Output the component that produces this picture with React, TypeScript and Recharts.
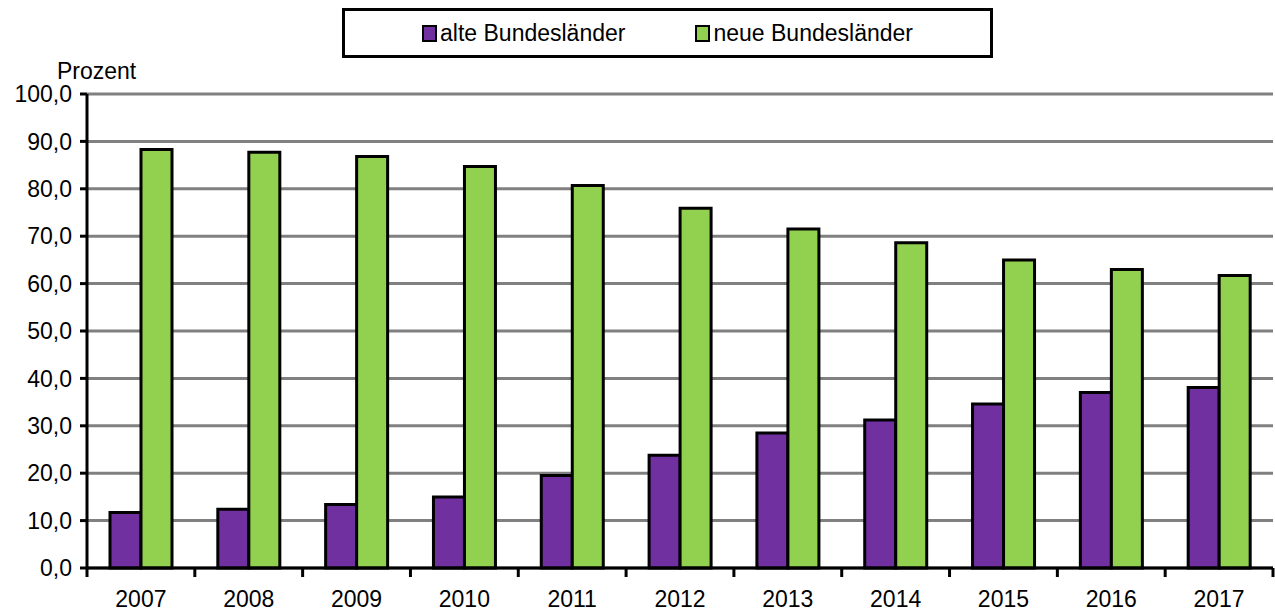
import { Bar, BarChart, CartesianGrid, XAxis, YAxis } from "recharts";

const years = ["2007", "2008", "2009", "2010", "2011", "2012", "2013", "2014", "2015", "2016", "2017"];
const alte = [11.7, 12.4, 13.4, 15.0, 19.5, 23.8, 28.5, 31.2, 34.6, 37.0, 38.1];
const neue = [88.3, 87.7, 86.8, 84.7, 80.7, 75.9, 71.5, 68.6, 65.0, 63.0, 61.7];
const yTicks = [0, 10, 20, 30, 40, 50, 60, 70, 80, 90, 100];

const data = years.map((year, i) => ({ year, alte: alte[i], neue: neue[i] }));

const PURPLE = "#7030A0";
const GREEN = "#92D050";
const FONT = "'Liberation Sans', Arial, sans-serif";

const CHART_W = 1275;
const LEFT = 87;
const RIGHT = 2;
const BAND = (CHART_W - LEFT - RIGHT) / years.length;

function YearTick(props: any) {
  const { x, y, payload, index } = props;
  const last = index === years.length - 1;
  return (
    <g>
      <line x1={x - BAND / 2} x2={x - BAND / 2} y1={y - 8} y2={y + 1} stroke="#000" strokeWidth={3} />
      {last && (
        <line x1={x + BAND / 2} x2={x + BAND / 2} y1={y - 8} y2={y + 1} stroke="#000" strokeWidth={3} />
      )}
      <text x={x} y={y + 31} textAnchor="middle" fontSize={23} fill="#000" fontFamily={FONT}>
        {payload.value}
      </text>
    </g>
  );
}

function LegendBox() {
  const item = (color: string, label: string, gap: number) => (
    <span style={{ display: "inline-flex", alignItems: "center", marginRight: gap }}>
      <span
        style={{
          display: "inline-block",
          width: 11,
          height: 13,
          background: color,
          border: "2px solid #000",
          marginRight: 3,
        }}
      />
      {label}
    </span>
  );
  return (
    <div
      style={{
        position: "absolute",
        left: 342,
        top: 8,
        width: 645,
        height: 44,
        border: "3px solid #000",
        background: "#fff",
        display: "flex",
        alignItems: "center",
        justifyContent: "center",
        fontSize: 23,
        fontFamily: FONT,
        color: "#000",
      }}
    >
      {item(PURPLE, "alte Bundesländer", 70)}
      {item(GREEN, "neue Bundesländer", 0)}
    </div>
  );
}

export default function App() {
  return (
    <div style={{ position: "absolute", left: 0, top: 0, width: CHART_W, height: 615, background: "#fff" }}>
      <BarChart
        width={CHART_W}
        height={615}
        data={data}
        margin={{ top: 94, right: RIGHT, bottom: 0, left: 0 }}
        barSize={31}
        barGap={0}
      >
        <CartesianGrid vertical={false} stroke="#808080" strokeWidth={3} />
        <XAxis
          dataKey="year"
          height={47}
          axisLine={{ stroke: "#000", strokeWidth: 3 }}
          tickLine={false}
          interval={0}
          tick={<YearTick />}
        />
        <YAxis
          width={LEFT}
          domain={[0, 100]}
          ticks={yTicks}
          interval={0}
          axisLine={{ stroke: "#000", strokeWidth: 3 }}
          tickLine={{ stroke: "#000", strokeWidth: 3 }}
          tickSize={7}
          tickMargin={8}
          tickFormatter={(v: number) => v.toFixed(1).replace(".", ",")}
          tick={{ fontSize: 23, fill: "#000", fontFamily: FONT }}
        />
        <Bar dataKey="alte" name="alte Bundesländer" fill={PURPLE} stroke="#000" strokeWidth={3} isAnimationActive={false} />
        <Bar dataKey="neue" name="neue Bundesländer" fill={GREEN} stroke="#000" strokeWidth={3} isAnimationActive={false} />
      </BarChart>
      <LegendBox />
      <div
        style={{
          position: "absolute",
          left: 57,
          top: 58,
          fontSize: 23,
          fontFamily: FONT,
          color: "#000",
        }}
      >
        Prozent
      </div>
    </div>
  );
}
